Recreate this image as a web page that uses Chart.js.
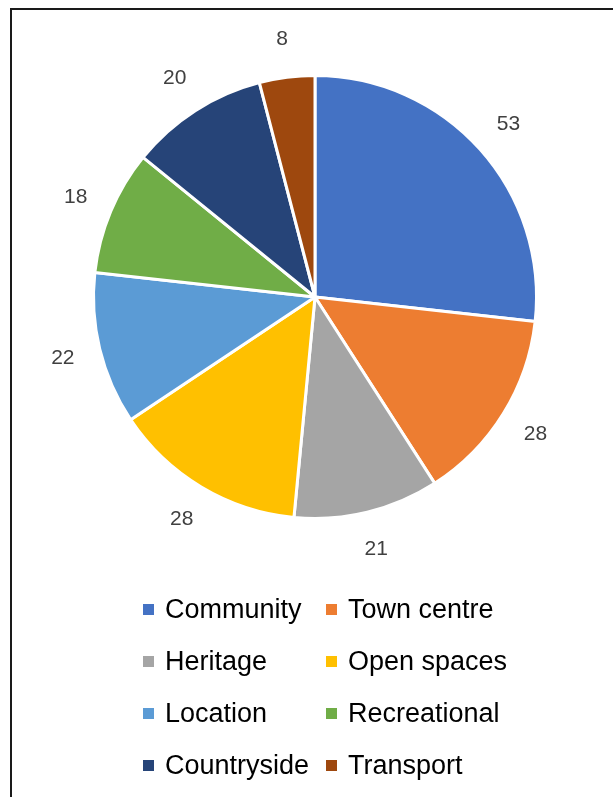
<!DOCTYPE html>
<html>
<head>
<meta charset="utf-8">
<script src="https://cdn.jsdelivr.net/npm/chart.js@4/dist/chart.umd.min.js"></script>
<style>
  body { margin: 0; background: #fff; width: 613px; height: 797px; overflow: hidden; position: relative; font-family: "Liberation Sans", Arial, sans-serif; }
  #frame { position: absolute; left: 10px; top: 8px; width: 700px; height: 900px; border-left: 2px solid #1a1a1a; border-top: 2px solid #1a1a1a; box-sizing: border-box; }
  #wrap { position: absolute; left: 0; top: 0; width: 613px; height: 797px; }
  #legend { position: absolute; left: 143px; top: 583px; display: grid; grid-template-columns: 183px 200px; row-gap: 0; }
  .item { display: flex; align-items: center; height: 52px; font-size: 27px; color: #000; white-space: nowrap; }
  .box { width: 11px; height: 11px; margin-right: 11px; flex: none; }
</style>
</head>
<body>
<div id="frame"></div>
<div id="wrap"><canvas id="chart_canvas" width="613" height="797"></canvas></div>
<div id="legend"></div>
<script>
// categories and counts
const labels = ['Community', 'Town centre', 'Heritage', 'Open spaces', 'Location', 'Recreational', 'Countryside', 'Transport'];
const values = [53, 28, 21, 28, 22, 18, 20, 8];
const colours = ['#4472C4', '#ED7D31', '#A5A5A5', '#FFC000', '#5B9BD5', '#70AD47', '#264478', '#9E480E'];

// labels outside the slices
const outLabels = {
    id: 'outLabels',
    afterDatasetsDraw(chart) {
        const { ctx } = chart;
        const meta = chart.getDatasetMeta(0);
        ctx.save();
        ctx.font = '21px "Liberation Sans", Arial, sans-serif';
        ctx.fillStyle = '#404040';
        ctx.textAlign = 'center';
        ctx.textBaseline = 'middle';
        meta.data.forEach((arc, i) => {
            const mid = (arc.startAngle + arc.endAngle) / 2;
            const r = arc.outerRadius + 38;
            ctx.fillText(String(chart.data.datasets[0].data[i]), arc.x + Math.cos(mid) * r, arc.y + Math.sin(mid) * r);
        });
        ctx.restore();
    }
};

const conf = {
    type: 'pie',
    data: {
        labels: labels,
        datasets: [{
            data: values,
            backgroundColor: colours,
            borderColor: '#ffffff',
            borderWidth: 3
        }]
    },
    options: {
        responsive: false,
        animation: false,
        layout: {
            padding: { left: 92, right: 75, top: 74, bottom: 277 }
        },
        plugins: {
            legend: { display: false },
            tooltip: { enabled: false }
        }
    },
    plugins: [outLabels]
};

const myChart = new Chart(document.getElementById('chart_canvas'), conf);

// legend in two columns
const legend = document.getElementById('legend');
labels.forEach((l, i) => {
    const item = document.createElement('div');
    item.className = 'item';
    item.innerHTML = '<span class="box" style="background:' + colours[i] + '"></span><span>' + l + '</span>';
    legend.appendChild(item);
});
</script>
</body>
</html>
